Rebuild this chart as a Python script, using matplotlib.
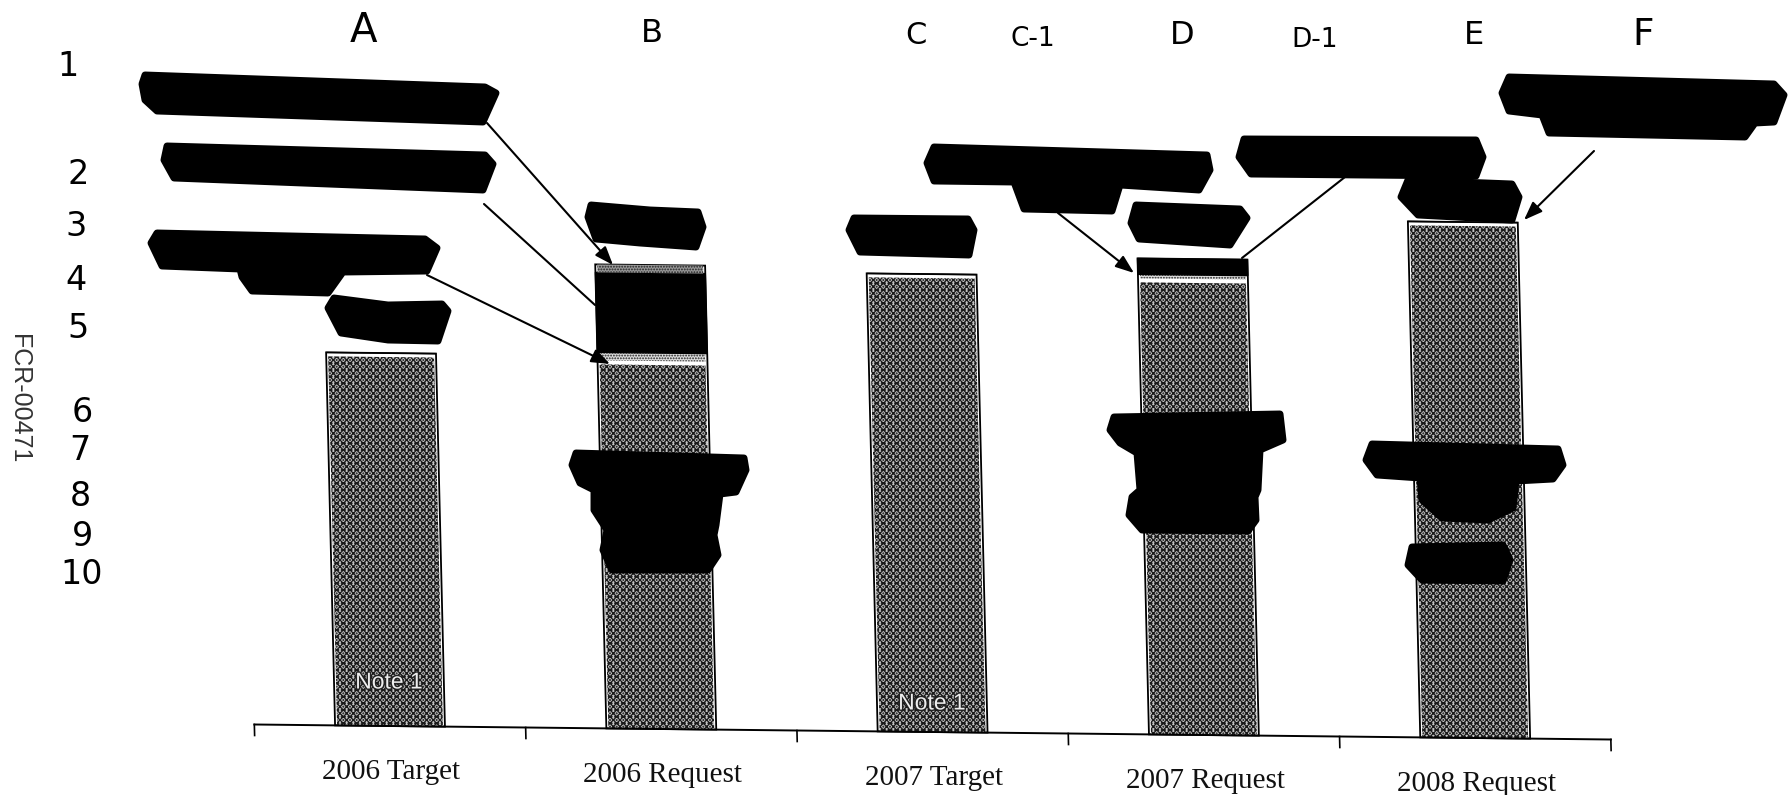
import matplotlib
matplotlib.use("Agg")
import matplotlib.pyplot as plt
import matplotlib.patheffects as pe
from matplotlib.transforms import Affine2D

categories = ["2006 Target", "2006 Request", "2007 Target", "2007 Request", "2008 Request"]
# bar heights, one unit is about one pixel
base_values = [373, 368, 458, 456, 516]
strip_low = [0, 8, 0, 4, 0]
blacked_out = [0, 80, 0, 16, 0]
strip_high = [0, 8, 0, 0, 0]
note_labels = ["Note 1", "", "Note 1", "", ""]
note_heights = [44, 0, 29, 0, 0]

top_letters = ["A", "B", "C", "C-1", "D", "D-1", "E", "F"]
letter_x = [363, 652, 916, 1033, 1182, 1315, 1474, 1643]
letter_y = [31, 33, 36, 39, 36, 40, 36, 35]
letter_size = [29, 23, 22, 19, 23, 19, 23, 27]

row_numbers = ["1", "2", "3", "4", "5", "6", "7", "8", "9", "10"]
row_x = [68, 78, 76, 76, 78, 82, 80, 80, 82, 82]
row_y = [67, 175, 227, 280, 329, 412, 450, 496, 536, 575]

# redaction marker blobs, pixel outlines from the scan
blobs = [
    [(145, 75), (485, 87), (496, 93), (483, 122), (157, 111), (145, 100), (142, 84)],
    [(167, 146), (485, 155), (493, 164), (483, 190), (174, 178), (164, 160)],
    [(157, 233), (425, 239), (437, 248), (427, 271), (343, 272), (328, 293), (252, 291),
     (242, 277), (240, 269), (162, 266), (151, 243)],
    [(334, 298), (388, 305), (442, 304), (448, 311), (438, 341), (388, 340), (341, 333), (328, 308)],
    [(591, 205), (650, 210), (698, 212), (703, 227), (696, 247), (640, 243), (596, 239), (588, 217)],
    [(934, 147), (1207, 155), (1210, 170), (1199, 190), (1120, 185), (1112, 211), (1024, 209),
     (1014, 182), (934, 181), (927, 163)],
    [(1244, 139), (1476, 140), (1483, 157), (1476, 176), (1251, 174), (1239, 157)],
    [(1408, 180), (1512, 184), (1519, 197), (1512, 220), (1418, 215), (1401, 197)],
    [(1509, 77), (1774, 84), (1784, 95), (1774, 122), (1755, 123), (1745, 137), (1549, 133),
     (1542, 115), (1509, 111), (1502, 93)],
    [(1136, 205), (1240, 209), (1247, 218), (1230, 245), (1139, 239), (1131, 223)],
    [(854, 218), (968, 219), (974, 230), (969, 255), (860, 252), (849, 230)],
    [(576, 453), (744, 458), (746, 470), (736, 492), (720, 494), (716, 525), (714, 535), (718, 555),
     (708, 570), (612, 570), (603, 550), (607, 530), (594, 510), (594, 490), (580, 483), (572, 465)],
    [(1114, 417), (1280, 414), (1283, 440), (1260, 450), (1258, 490), (1255, 497), (1256, 520),
     (1248, 531), (1142, 530), (1129, 515), (1132, 497), (1140, 490), (1137, 453), (1120, 443), (1110, 430)],
    [(1372, 444), (1558, 449), (1563, 465), (1553, 479), (1516, 481), (1513, 508), (1488, 520),
     (1442, 518), (1422, 500), (1420, 478), (1377, 475), (1366, 460)],
    [(1412, 547), (1503, 545), (1510, 560), (1503, 581), (1422, 580), (1408, 565)],
]

# (start, end, has head)
arrows = [
    ((487, 123), (613, 265), True),
    ((484, 204), (595, 305), False),
    ((427, 275), (610, 364), True),
    ((1058, 213), (1134, 273), True),
    ((1345, 177), (1242, 258), False),
    ((1594, 151), (1524, 220), True),
]

plt.rcParams["hatch.linewidth"] = 0.9

fig = plt.figure(figsize=(17.88, 7.95), dpi=100)
ax = fig.add_axes([0, 0, 1, 1])
ax.set_autoscale_on(False)

# the page was scanned crooked, so category/value units go through a sheared transform
tr = Affine2D.from_values(271.3, 3.0, -0.024, -1.0, 390, 726) + ax.transData

x = list(range(len(categories)))
totals = [b + s1 + k + s2 for b, s1, k, s2 in zip(base_values, strip_low, blacked_out, strip_high)]

# outer frame, white gap, then the mottled fill
ax.bar(x, totals, width=0.405, color="white", edgecolor="black", linewidth=1.3, transform=tr, zorder=2)
ax.bar(x, [b - 4 for b in base_values], width=0.39, color="#c4c4c4", edgecolor="#1a1a1a", hatch="xxxxx.....",
       linewidth=0, transform=tr, zorder=3)
bottoms = [b + s for b, s in zip(base_values, strip_low)]
ax.bar(x, strip_low, bottom=base_values, width=0.39, color="#dddddd", edgecolor="#222222", hatch="......",
       linewidth=0, transform=tr, zorder=3)
ax.bar(x, blacked_out, bottom=bottoms, width=0.405, color="black", edgecolor="black", transform=tr, zorder=3)
tops = [b + k for b, k in zip(bottoms, blacked_out)]
ax.bar(x, strip_high, bottom=tops, width=0.39, color="#999999", edgecolor="#222222", hatch="......",
       linewidth=0, transform=tr, zorder=3)

ax.plot([-0.5, 4.5], [0, 0], color="black", lw=1.4, transform=tr, zorder=4)
for i in range(len(categories) + 1):
    ax.plot([i - 0.5, i - 0.5], [0, -11], color="black", lw=1.2, transform=tr, zorder=4)

for i, name in enumerate(categories):
    ax.text(i, -46, name, transform=tr, ha="center", va="center", family="Liberation Serif",
            fontsize=21, color="#111111")
    if note_labels[i]:
        ax.text(i, note_heights[i], note_labels[i], transform=tr, ha="center", va="center",
                family="Liberation Sans", fontsize=16.5, color="#eeeeee", zorder=5,
                path_effects=[pe.withStroke(linewidth=2, foreground="#222222")])

for outline in blobs:
    ax.fill([p[0] for p in outline], [p[1] for p in outline], color="black", lw=5, joinstyle="round", zorder=6)

for start, end, head in arrows:
    style = "-|>,head_width=0.3,head_length=0.8" if head else "-"
    ax.annotate("", xy=end, xytext=start, zorder=7,
                arrowprops=dict(arrowstyle=style, color="black", lw=1.5, shrinkA=0, shrinkB=0, mutation_scale=14))

for label, lx, ly, size in zip(top_letters, letter_x, letter_y, letter_size):
    ax.text(lx, ly, label, ha="center", va="center", fontsize=size, color="black")
for label, lx, ly in zip(row_numbers, row_x, row_y):
    ax.text(lx, ly, label, ha="center", va="center", fontsize=24, color="black")

ax.text(19, 399, "FCR-00471", rotation=270, ha="center", va="center", family="Liberation Sans",
        fontsize=18, color="#333333")

ax.set_xlim(0, 1788)
ax.set_ylim(795, 0)
ax.axis("off")

fig.savefig("out.png", dpi=100, facecolor="white")
